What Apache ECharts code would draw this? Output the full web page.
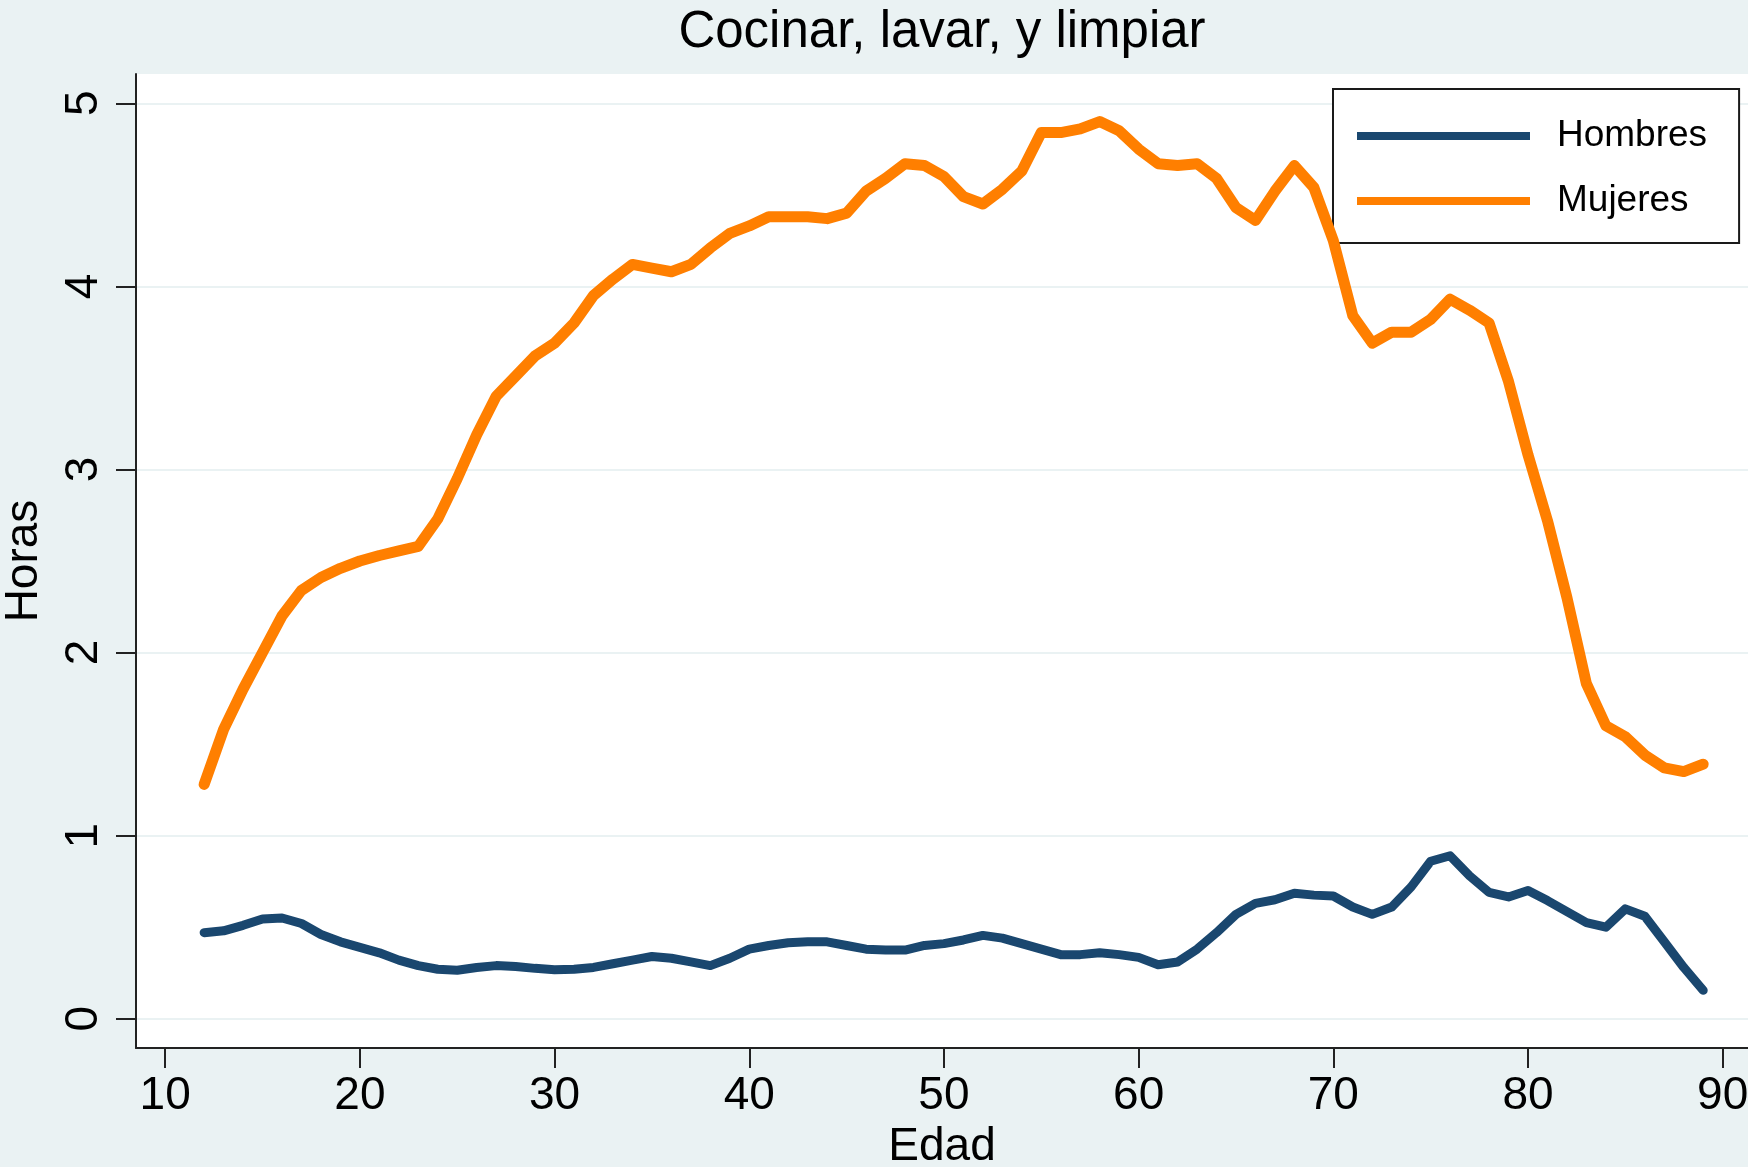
<!DOCTYPE html>
<html>
<head>
<meta charset="utf-8">
<script src="https://cdn.jsdelivr.net/npm/echarts@6/dist/echarts.min.js"></script>
<style>
html,body{margin:0;padding:0;background:#eaf2f3;}
#chart{width:1748px;height:1167px;}
</style>
</head>
<body>
<div id="chart"></div>
<script>
const titleText = 'Cocinar, lavar, y limpiar';
const xTitle = 'Edad';
const yTitle = 'Horas';
const seriesNames = ['Hombres', 'Mujeres'];
const xTicks = [10, 20, 30, 40, 50, 60, 70, 80, 90];
const yTicks = [0, 1, 2, 3, 4, 5];
const ages = [12,13,14,15,16,17,18,19,20,21,22,23,24,25,26,27,28,29,30,31,32,33,34,35,36,37,38,39,40,41,42,43,44,45,46,47,48,49,50,51,52,53,54,55,56,57,58,59,60,61,62,63,64,65,66,67,68,69,70,71,72,73,74,75,76,77,78,79,80,81,82,83,84,85,86,87,88,89];
const hombres = [0.47,0.48,0.51,0.545,0.55,0.52,0.46,0.42,0.39,0.36,0.32,0.29,0.27,0.265,0.28,0.29,0.285,0.275,0.268,0.27,0.28,0.30,0.32,0.34,0.33,0.31,0.29,0.33,0.38,0.40,0.415,0.42,0.42,0.40,0.38,0.375,0.375,0.40,0.41,0.43,0.455,0.44,0.41,0.38,0.35,0.35,0.36,0.35,0.335,0.295,0.31,0.38,0.47,0.57,0.63,0.65,0.685,0.675,0.67,0.61,0.57,0.61,0.72,0.86,0.89,0.78,0.69,0.665,0.70,0.645,0.585,0.525,0.50,0.60,0.56,0.42,0.28,0.155];
const mujeres = [1.28,1.58,1.80,2.00,2.20,2.34,2.41,2.46,2.50,2.53,2.555,2.58,2.73,2.95,3.19,3.40,3.51,3.62,3.69,3.80,3.95,4.04,4.12,4.10,4.08,4.12,4.21,4.29,4.33,4.38,4.38,4.38,4.37,4.40,4.52,4.59,4.67,4.66,4.60,4.49,4.45,4.53,4.63,4.84,4.84,4.86,4.90,4.85,4.75,4.67,4.66,4.67,4.59,4.43,4.36,4.52,4.66,4.54,4.25,3.84,3.69,3.75,3.75,3.82,3.93,3.87,3.80,3.48,3.08,2.72,2.30,1.83,1.60,1.54,1.44,1.37,1.35,1.39];

const FONT = '"Liberation Sans", Arial, Helvetica, sans-serif';
const chart = echarts.init(document.getElementById('chart'), null, {renderer: 'canvas'});
const pairs = (ys) => ages.map((a, i) => [a, ys[i]]);
const axisCol = '#222';

chart.setOption({
  backgroundColor: '#eaf2f3',
  animation: false,
  textStyle: {fontFamily: FONT},
  graphic: [{
    type: 'text',
    x: 942, y: 33,
    style: {text: titleText, fill: '#000', font: '51px ' + FONT, textAlign: 'center', textVerticalAlign: 'middle'}
  }],
  grid: {left: 136, top: 74, right: 0, bottom: 119, show: true, backgroundColor: '#ffffff', borderWidth: 0,
         containLabel: false, outerBoundsMode: 'none'},
  legend: {
    left: 1333, top: 89,
    orient: 'vertical',
    backgroundColor: '#ffffff',
    borderColor: '#1a1a1a', borderWidth: 2, borderRadius: 0,
    padding: [24, 32, 19, 24],
    itemGap: 19,
    itemWidth: 173, itemHeight: 8,
    icon: 'rect',
    textStyle: {fontSize: 37, color: '#000', fontFamily: FONT, lineHeight: 46, padding: [0, 0, 0, 22]},
    data: seriesNames
  },
  xAxis: {
    type: 'value', min: 8.5, max: 91.3,
    name: xTitle, nameLocation: 'middle', nameGap: 74,
    nameTextStyle: {fontSize: 46, color: '#000', fontFamily: FONT},
    axisLine: {show: true, onZero: false, lineStyle: {color: axisCol, width: 2}},
    axisTick: {show: true, length: 20, lineStyle: {color: axisCol, width: 2}, customValues: xTicks},
    axisLabel: {fontSize: 46, color: '#000', margin: 25, fontFamily: FONT, customValues: xTicks, showMinLabel: true, showMaxLabel: true},
    splitLine: {show: false}
  },
  yAxis: {
    type: 'value', min: -0.16, max: 5.16,
    name: yTitle, nameLocation: 'middle', nameGap: 89, nameRotate: 90,
    nameTextStyle: {fontSize: 46, color: '#000', fontFamily: FONT},
    axisLine: {show: true, onZero: false, lineStyle: {color: axisCol, width: 2}},
    axisTick: {show: true, length: 20, lineStyle: {color: axisCol, width: 2}, customValues: yTicks},
    axisLabel: {fontSize: 46, color: '#000', margin: 29, rotate: 90, fontFamily: FONT, customValues: yTicks},
    splitLine: {show: true, lineStyle: {color: '#eaf2f3', width: 2}}
  },
  series: [
    {name: seriesNames[0], type: 'line', data: pairs(hombres), showSymbol: false, symbol: 'none',
     lineStyle: {color: '#1a476f', width: 9, join: 'round', cap: 'round'}, itemStyle: {color: '#1a476f'}, z: 3},
    {name: seriesNames[1], type: 'line', data: pairs(mujeres), showSymbol: false, symbol: 'none',
     lineStyle: {color: '#ff7f00', width: 11, join: 'round', cap: 'round'}, itemStyle: {color: '#ff7f00'}, z: 4}
  ]
});
</script>
</body>
</html>
